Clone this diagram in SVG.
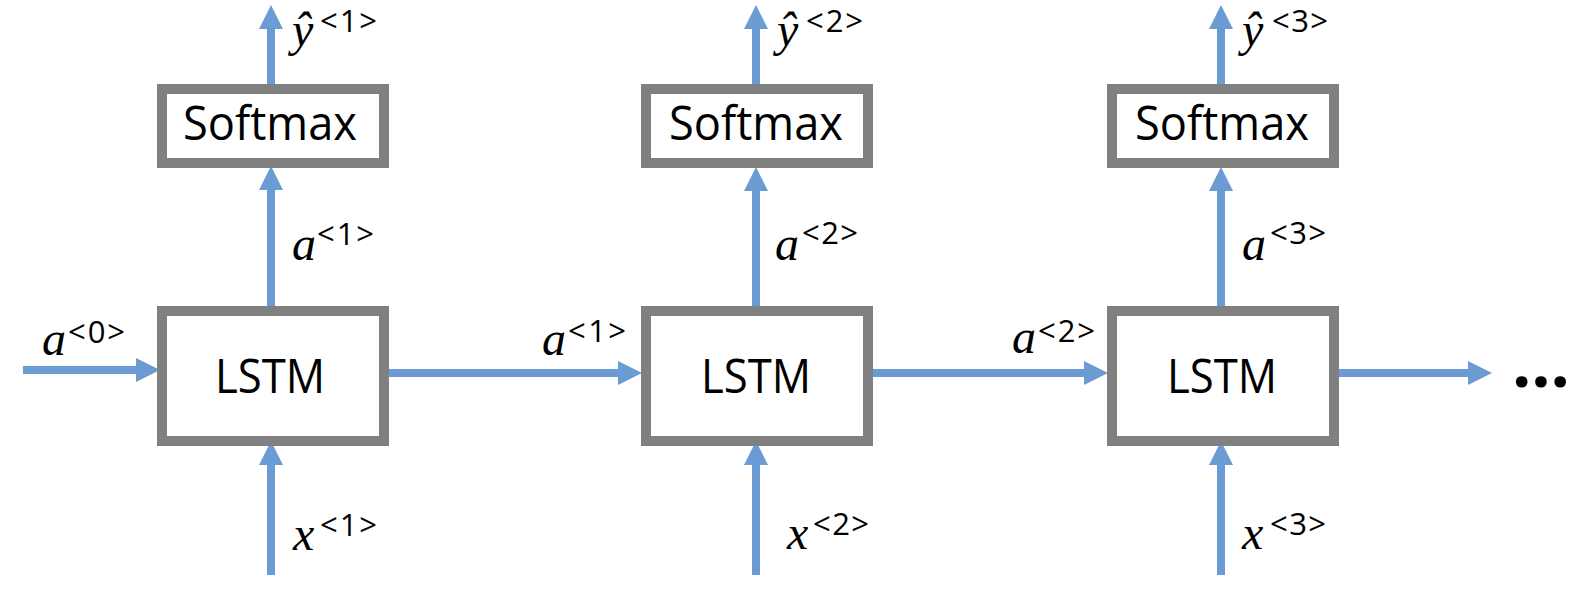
<svg xmlns="http://www.w3.org/2000/svg" width="1576" height="600" viewBox="0 0 1576 600">
<style>
.box{fill:#fff;stroke:#808080;stroke-width:10}
.lbl{font-family:"Open Sans","Liberation Sans",sans-serif;font-size:47px;fill:#000;text-anchor:middle}
.conn line{stroke:#6A9BD2;stroke-width:8}
.m{font-family:"Liberation Serif",serif;font-style:italic;font-size:48px;fill:#000}
.s{font-family:"Open Sans","Liberation Sans",sans-serif;font-size:31px;fill:#000}
.dots{font-family:"Open Sans","Liberation Sans",sans-serif;font-weight:bold;font-size:68px;fill:#000}
</style>
<defs>
<marker id="ah" markerUnits="userSpaceOnUse" markerWidth="24" markerHeight="24" refX="1" refY="12" orient="auto">
<path d="M0,0 L24,12 L0,24 Z" fill="#6A9BD2"/>
</marker>
</defs>
<rect width="1576" height="600" fill="#fff"/>
<g id="connectors" class="conn">
<line x1="271" y1="84" x2="271" y2="28" marker-end="url(#ah)"/>
<line x1="756" y1="84" x2="756" y2="28" marker-end="url(#ah)"/>
<line x1="1221" y1="84" x2="1221" y2="28" marker-end="url(#ah)"/>
<line x1="271" y1="306" x2="271" y2="189" marker-end="url(#ah)"/>
<line x1="756" y1="306" x2="756" y2="190" marker-end="url(#ah)"/>
<line x1="1221" y1="306" x2="1221" y2="190" marker-end="url(#ah)"/>
<line x1="271" y1="575" x2="271" y2="464" marker-end="url(#ah)"/>
<line x1="756" y1="575" x2="756" y2="464" marker-end="url(#ah)"/>
<line x1="1221" y1="575" x2="1221" y2="464" marker-end="url(#ah)"/>
<line x1="23" y1="370" x2="137" y2="370" marker-end="url(#ah)"/>
<line x1="383" y1="373" x2="619" y2="373" marker-end="url(#ah)"/>
<line x1="867" y1="373" x2="1085" y2="373" marker-end="url(#ah)"/>
<line x1="1333" y1="373" x2="1469" y2="373" marker-end="url(#ah)"/>
</g>
<g id="softmax1"><rect class="box" x="162" y="89" width="222" height="74"/><text class="lbl" x="270" y="140" textLength="174" lengthAdjust="spacingAndGlyphs">Softmax</text></g>
<g id="softmax2"><rect class="box" x="646" y="89" width="222" height="74"/><text class="lbl" x="756" y="140" textLength="174" lengthAdjust="spacingAndGlyphs">Softmax</text></g>
<g id="softmax3"><rect class="box" x="1112" y="89" width="222" height="74"/><text class="lbl" x="1222" y="140" textLength="174" lengthAdjust="spacingAndGlyphs">Softmax</text></g>
<g id="lstm1"><rect class="box" x="162" y="311" width="222" height="130"/><text class="lbl" x="270" y="393" textLength="110" lengthAdjust="spacingAndGlyphs">LSTM</text></g>
<g id="lstm2"><rect class="box" x="646" y="311" width="222" height="130"/><text class="lbl" x="756" y="393" textLength="110" lengthAdjust="spacingAndGlyphs">LSTM</text></g>
<g id="lstm3"><rect class="box" x="1112" y="311" width="222" height="130"/><text class="lbl" x="1222" y="393" textLength="110" lengthAdjust="spacingAndGlyphs">LSTM</text></g>
<g id="labels">
<text class="m" x="292" y="46">ŷ</text><text class="s" x="320" y="32" textLength="57" lengthAdjust="spacing">&lt;1&gt;</text>
<text class="m" x="777" y="46">ŷ</text><text class="s" x="806" y="32" textLength="57" lengthAdjust="spacing">&lt;2&gt;</text>
<text class="m" x="1242" y="46">ŷ</text><text class="s" x="1272" y="32" textLength="56" lengthAdjust="spacing">&lt;3&gt;</text>
<text class="m" x="292" y="260">a</text><text class="s" x="317" y="245" textLength="57" lengthAdjust="spacing">&lt;1&gt;</text>
<text class="m" x="775" y="260">a</text><text class="s" x="802" y="244" textLength="56" lengthAdjust="spacing">&lt;2&gt;</text>
<text class="m" x="1242" y="260">a</text><text class="s" x="1270" y="244" textLength="56" lengthAdjust="spacing">&lt;3&gt;</text>
<text class="m" x="42" y="355">a</text><text class="s" x="68" y="343" textLength="57" lengthAdjust="spacing">&lt;0&gt;</text>
<text class="m" x="542" y="355">a</text><text class="s" x="568" y="342" textLength="58" lengthAdjust="spacing">&lt;1&gt;</text>
<text class="m" x="1012" y="353">a</text><text class="s" x="1038" y="342" textLength="57" lengthAdjust="spacing">&lt;2&gt;</text>
<text class="m" x="293" y="550">x</text><text class="s" x="320" y="536" textLength="57" lengthAdjust="spacing">&lt;1&gt;</text>
<text class="m" x="787" y="549">x</text><text class="s" x="813" y="535" textLength="56" lengthAdjust="spacing">&lt;2&gt;</text>
<text class="m" x="1242" y="549">x</text><text class="s" x="1270" y="535" textLength="56" lengthAdjust="spacing">&lt;3&gt;</text>
<text class="dots" x="1512" y="387" textLength="58" lengthAdjust="spacing">...</text>
</g>
</svg>
